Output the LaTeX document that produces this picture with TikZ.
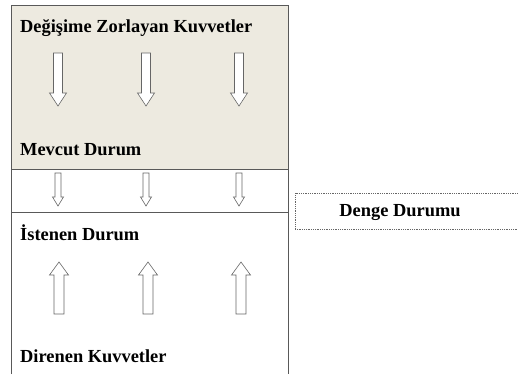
\documentclass[tikz,border=0pt]{standalone}
\usepackage{fontspec}
\setmainfont{Liberation Serif}
\definecolor{panelbeige}{HTML}{EDEAE0}
\begin{document}
\begin{tikzpicture}[x=1pt,y=-1pt,
  frame/.style={draw=black!65, line width=0.8pt},
  lbl/.style={anchor=base west, inner sep=0pt, font=\fontsize{18.4}{20}\selectfont\bfseries},
  hollow/.style={draw=black!60, fill=white, line width=0.6pt, line join=miter},
  dottedbox/.style={draw=black!60, line width=0.7pt, dash pattern=on 0.8pt off 1pt, inner sep=0pt}]
\useasboundingbox (0,0) rectangle (518,374);
% panels
\fill[panelbeige] (11,5) rectangle (288,169);
\draw[frame] (11,374) -- (11,5) -- (288,5) -- (288,374);
\draw[frame] (11,169) -- (288,169);
\draw[frame] (11,212) -- (288,212);
% large downward forces
\foreach \cx in {58,146,239}
  \draw[hollow] (\cx-4.5,53) -- (\cx+4.5,53) -- (\cx+4.5,93) -- (\cx+8.5,93)
    -- (\cx,106) -- (\cx-8.5,93) -- (\cx-4.5,93) -- cycle;
% small downward arrows in the band
\foreach \cx in {58,146,239}
  \draw[hollow] (\cx-3,173) -- (\cx+3,173) -- (\cx+3,197) -- (\cx+5.5,197)
    -- (\cx,206) -- (\cx-5.5,197) -- (\cx-3,197) -- cycle;
% upward resisting forces
\foreach \cx in {59,148,241}
  \draw[hollow] (\cx-5,314) -- (\cx+5,314) -- (\cx+5,275) -- (\cx+9.5,275)
    -- (\cx,262) -- (\cx-9.5,275) -- (\cx-5,275) -- cycle;
% labels
\node[lbl] (force) at (20,33) {Değişime Zorlayan Kuvvetler};
\node[lbl] (current) at (20,155) {Mevcut Durum};
\node[lbl] (desired) at (20,240) {İstenen Durum};
\node[lbl] (resist) at (20,362) {Direnen Kuvvetler};
% equilibrium box, running past the right edge
\node[dottedbox, minimum width=232pt, minimum height=36pt] (denge) at (411,211) {};
\node[lbl, anchor=base] (dengetext) at (400,216) {Denge Durumu};
\end{tikzpicture}
\end{document}
